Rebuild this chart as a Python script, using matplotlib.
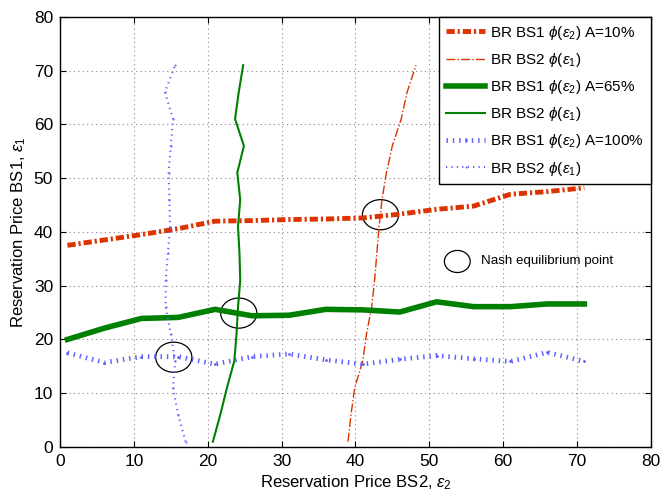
import numpy as np
import matplotlib.pyplot as plt
from matplotlib.patches import Ellipse

plt.rcParams.update({'font.size': 12.5, 'font.family': 'Liberation Sans',
                     'mathtext.fontset': 'custom', 'mathtext.rm': 'Liberation Sans',
                     'mathtext.it': 'Liberation Sans:italic'})

# grid of reservation prices (other player's price)
eps = np.arange(1, 72, 5)

# BR BS1 phi(eps2) for the three A values (y vs eps2)
br1_a10 = [37.5, 38.5, 39.5, 40.6, 42.0, 42.1, 42.3, 42.4, 42.6, 43.3, 44.2, 44.8, 47.0, 47.5, 48.2]
br1_a65 = [20.0, 22.1, 23.9, 24.1, 25.6, 24.4, 24.5, 25.6, 25.5, 25.1, 27.0, 26.1, 26.1, 26.6, 26.6]
br1_a100 = [17.5, 15.7, 16.8, 16.8, 15.4, 16.8, 17.3, 16.2, 15.4, 16.3, 17.0, 16.4, 15.9, 17.6, 15.9]

# BR BS2 phi(eps1) (x vs eps1)
br2_a10 = [39.0, 39.4, 39.9, 41.0, 41.5, 42.2, 42.6, 42.9, 43.2, 43.6, 44.2, 45.0, 46.2, 47.0, 48.2]
br2_a65 = [20.7, 21.7, 22.6, 23.6, 23.9, 24.1, 24.4, 24.3, 24.1, 24.4, 24.0, 24.9, 23.7, 24.2, 24.8]
br2_a100 = [17.0, 16.0, 15.3, 15.6, 15.0, 14.3, 14.3, 14.6, 14.9, 14.8, 14.7, 15.0, 15.3, 14.2, 15.6]

# Nash equilibrium points
nash_x = [43.4, 24.2, 15.4]
nash_y = [43.2, 24.9, 16.7]

red = '#dd3300'
green = '#008000'
blue = '#6060ff'

fig = plt.figure(figsize=(6.6, 4.95), dpi=100)
ax = fig.add_axes([0.091, 0.097, 0.895, 0.869])

ax.plot(eps, br1_a10, color=red, lw=3.5, linestyle=(0, (1.7, 0.6, 0.45, 0.6)), label=r'BR BS1 $\phi(\varepsilon_2)$ A=10%')
ax.plot(br2_a10, eps, color=red, lw=1, linestyle='-.', label=r'BR BS2 $\phi(\varepsilon_1)$')
ax.plot(eps, br1_a65, color=green, lw=4, label=r'BR BS1 $\phi(\varepsilon_2)$ A=65%')
ax.plot(br2_a65, eps, color=green, lw=1.5, label=r'BR BS2 $\phi(\varepsilon_1)$')
ax.plot(eps, br1_a100, color=blue, lw=3.5, linestyle=(0, (0.3, 1.0)), marker='.', markersize=2,
        label=r'BR BS1 $\phi(\varepsilon_2)$ A=100%')
ax.plot(br2_a100, eps, color=blue, lw=1.5, linestyle=(0, (0.6, 2)), marker='.', markersize=1,
        label=r'BR BS2 $\phi(\varepsilon_1)$')

for x, y in zip(nash_x, nash_y):
    ax.add_patch(Ellipse((x, y), 4.9, 5.6, fill=False, color='k', lw=0.9))

ax.add_patch(Ellipse((53.8, 34.5), 3.5, 4.1, fill=False, color='k', lw=0.9))
ax.text(57, 34.5, 'Nash equilibrium point', fontsize=9.6, va='center')

ax.set_xlim(0, 80)
ax.set_ylim(0, 80)
ax.set_xticks(range(0, 81, 10))
ax.set_yticks(range(0, 81, 10))
ax.grid(True, linestyle=(0, (1, 3)), color='#888888', lw=0.8)
ax.tick_params(direction='in', top=True, right=True, length=4, pad=5)
for s in ax.spines.values():
    s.set_linewidth(1)

ax.set_xlabel(r'Reservation Price BS2, $\varepsilon_2$', fontsize=12, labelpad=3)
ax.set_ylabel(r'Reservation Price BS1, $\varepsilon_1$', fontsize=12, labelpad=4)

leg = ax.legend(loc='upper right', fontsize=11, handlelength=2.6, labelspacing=0.6,
                fancybox=False, framealpha=1, edgecolor='k', borderaxespad=0, handletextpad=0.3,
                borderpad=0.45)
leg.get_frame().set_linewidth(1)

fig.savefig('out.png', dpi=100)
